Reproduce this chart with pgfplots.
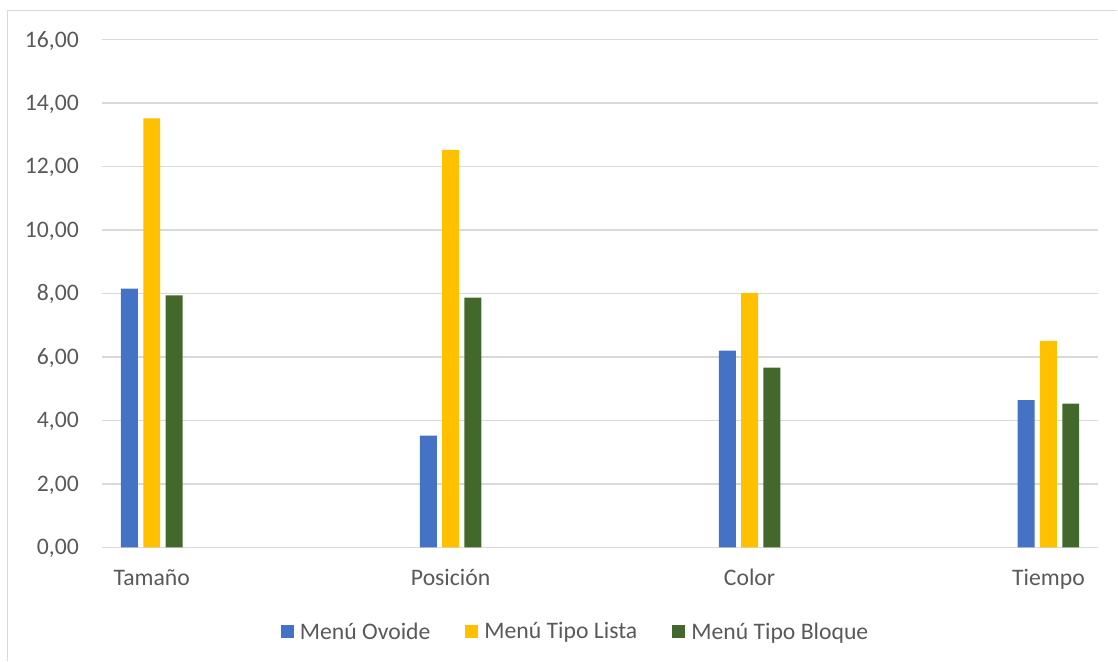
\documentclass[border=0pt]{standalone}
\usepackage{pgfplots}
\pgfplotsset{compat=1.18}
\usepackage{fontspec}
\setmainfont{Carlito}
\definecolor{cblue}{HTML}{4472C4}
\definecolor{cyellow}{HTML}{FFC000}
\definecolor{cgreen}{HTML}{43682B}
\definecolor{cgrid}{HTML}{D9D9D9}
\definecolor{ctext}{HTML}{595959}
\begin{document}
\begin{tikzpicture}[x=1pt,y=1pt]
\path (0,0) rectangle (1118,661);
\draw[cgrid, line width=1.5pt] (7.5,0) -- (7.5,650.5) -- (1118,650.5);
\begin{axis}[
  at={(102pt,113.3pt)}, anchor=south west,
  scale only axis, width=997pt, height=508pt,
  xmin=-0.16667, xmax=3.16667, ymin=0, ymax=16,
  ytick={0,2,...,16},
  xtick={0,1,2,3},
  xticklabels={Tamaño,Posición,Color,Tiempo},
  axis line style={draw=none},
  major tick length=0pt,
  ymajorgrids, grid style={cgrid, line width=1.5pt},
  ybar=5.3pt, bar width=17pt,
  tick label style={font=\fontsize{23.7}{28}\selectfont, text=ctext, inner sep=0pt},
  yticklabel style={anchor=base east, xshift=-23pt, yshift=-7.4pt},
  xticklabel style={anchor=base, yshift=-38pt},
  /pgf/number format/.cd, fixed, fixed zerofill, precision=2, use comma, assume math mode=true,
  /pgfplots/.cd,
  legend columns=3,
  legend style={at={(0.4744,0)}, anchor=center, yshift=-84.3pt, draw=none, fill=none,
    inner sep=0pt, font=\fontsize{23.7}{28}\selectfont, text=ctext,
    nodes={inner sep=0pt},
    /tikz/every odd column/.append style={column sep=6pt},
    /tikz/every even column/.append style={column sep=35pt}},
  legend image code/.code={\fill[#1] (0pt,-6.5pt) rectangle (13pt,6.5pt);},
]
\addplot[fill=cblue, draw=none] coordinates {(0,8.15) (1,3.52) (2,6.20) (3,4.64)};
\addplot[fill=cyellow, draw=none] coordinates {(0,13.52) (1,12.53) (2,8.02) (3,6.51)};
\addplot[fill=cgreen, draw=none] coordinates {(0,7.94) (1,7.87) (2,5.66) (3,4.53)};
\legend{Menú Ovoide, Menú Tipo Lista, Menú Tipo Bloque}
\end{axis}
\end{tikzpicture}
\end{document}
